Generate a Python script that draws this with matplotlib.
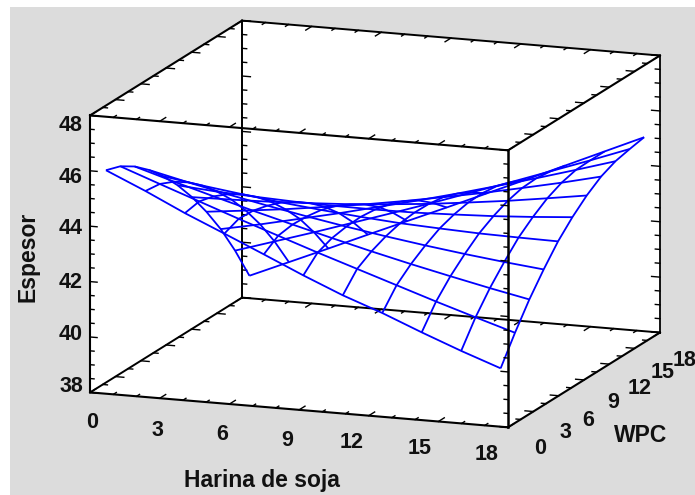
import numpy as np
import matplotlib
matplotlib.use("Agg")
import matplotlib.pyplot as plt
from matplotlib.patches import Rectangle
from mpl_toolkits.mplot3d.art3d import Poly3DCollection

# grid of the surface
harina = [0.5, 2.2, 3.9, 5.6, 7.3, 9.0, 10.7, 12.4, 14.1, 15.8, 17.5]
wpc = [0.5, 2.2, 3.9, 5.6, 7.3, 9.0, 10.7, 12.4, 14.1, 15.8, 17.5]

# one row per wpc value
espesor = [
    [45.96, 45.33, 44.65, 44.03, 43.40, 42.76, 42.16, 41.64, 41.06, 40.51, 40.00],
    [45.78, 45.26, 44.75, 44.24, 43.75, 43.26, 42.79, 42.32, 41.85, 41.40, 40.96],
    [45.45, 45.02, 44.61, 44.21, 43.83, 43.46, 43.10, 42.76, 42.44, 42.13, 41.84],
    [45.00, 44.67, 44.36, 44.07, 43.80, 43.55, 43.32, 43.11, 42.92, 42.75, 42.60],
    [44.45, 44.23, 44.04, 43.86, 43.71, 43.58, 43.47, 43.40, 43.34, 43.31, 43.29],
    [43.80, 43.69, 43.62, 43.56, 43.53, 43.52, 43.53, 43.58, 43.64, 43.73, 43.84],
    [43.05, 43.08, 43.12, 43.19, 43.27, 43.39, 43.52, 43.69, 43.87, 44.08, 44.30],
    [42.20, 42.36, 42.53, 42.73, 42.94, 43.18, 43.44, 43.71, 44.01, 44.32, 44.66],
    [41.25, 41.54, 41.86, 42.18, 42.53, 42.88, 43.25, 43.64, 44.04, 44.46, 44.89],
    [40.15, 40.60, 41.05, 41.52, 41.99, 42.47, 42.97, 43.46, 43.97, 44.48, 45.01],
    [38.92, 39.53, 40.14, 40.76, 41.37, 41.98, 42.60, 43.22, 43.85, 44.48, 45.11],
]

x_labels = ["0", "3", "6", "9", "12", "15", "18"]
y_labels = ["0", "3", "6", "9", "12", "15", "18"]
z_labels = ["48", "46", "44", "42", "40", "38"]

x_label_px = [(92, 423), (157, 430), (222, 434), (287, 441), (352, 443), (420, 449), (487, 454)]
y_label_px = [(540, 449), (565, 433), (588, 420), (613, 402), (640, 388), (663, 373), (685, 360)]
z_label_px = [(71, 125), (71, 177), (71, 229), (71, 282), (71, 334), (71, 386)]

W, H = 695, 495
x0, x1 = 0, 18
y0, y1 = 0, 18
z0, z1 = 38, 48

fig = plt.figure(figsize=(W / 100, H / 100), dpi=100, facecolor="white")
fig.patches.append(Rectangle((10 / W, 0), 1, 1 - 7 / H, transform=fig.transFigure,
                             facecolor="#dcdcdc", edgecolor="none", zorder=-10))

S = 668.6
ax = fig.add_axes([31.7 / W, -72.3 / H, S / W, S / H], projection="3d",
                  proj_type="ortho", computed_zorder=False)
ax.set_facecolor("none")
ax.set_axis_off()
ax.view_init(elev=13.2, azim=-69.9)
ax.set_box_aspect((445, 442, 284.5))

# white back walls
walls = [
    [(x0, y0, z0), (x0, y1, z0), (x0, y1, z1), (x0, y0, z1)],
    [(x0, y1, z0), (x1, y1, z0), (x1, y1, z1), (x0, y1, z1)],
    [(x0, y0, z0), (x1, y0, z0), (x1, y1, z0), (x0, y1, z0)],
]
ax.add_collection3d(Poly3DCollection(walls, facecolor="white", edgecolor="white",
                                     linewidth=0.5, zorder=1))


def edge(a, b, lw, z):
    ax.plot([a[0], b[0]], [a[1], b[1]], [a[2], b[2]], color="black", lw=lw, zorder=z,
            solid_capstyle="projecting")


def ticks(start, axis, values, direction, major_every, major_len, minor_len, z=2):
    for k, v in enumerate(values):
        p = list(start)
        p[axis] = v
        ln = major_len if k % major_every == 0 else minor_len
        q = [p[0] + direction[0] * ln, p[1] + direction[1] * ln, p[2] + direction[2] * ln]
        ax.plot([p[0], q[0]], [p[1], q[1]], [p[2], q[2]], color="black", lw=1.0, zorder=z)


# back edges
edge((x0, y1, z0), (x0, y1, z1), 1.4, 2)
edge((x0, y1, z0), (x1, y1, z0), 1.4, 2)
edge((x0, y0, z0), (x0, y1, z0), 1.4, 2)

x_ticks = np.arange(0, 19, 1)
y_ticks = np.arange(0, 18.1, 1.5)
z_ticks = np.arange(38, 48.1, 0.5)

# ticks on the hidden side
ticks((x0, y1, z0), 2, z_ticks, (1, 0, 0), 4, 0.36, 0.2)
ticks((x0, y0, z0), 1, y_ticks, (1, 0, 0), 2, 0.36, 0.2)
ticks((x0, y1, z0), 0, x_ticks, (0, -1, 0), 3, 0.7, 0.35)

X, Y = np.meshgrid(harina, wpc)
Z = np.array(espesor)
ax.plot_wireframe(X, Y, Z, color="#0000ff", linewidth=1.3, zorder=3)

# ticks on the front side
ticks((x0, y0, z0), 2, z_ticks, (1, 0, 0), 4, 0.3, 0.17, 4)
ticks((x1, y0, z0), 2, z_ticks, (-1, 0, 0), 4, 0.3, 0.17, 4)
ticks((x1, y1, z0), 2, z_ticks, (-1, 0, 0), 4, 0.36, 0.2, 4)
ticks((x0, y0, z0), 0, x_ticks, (0, 1, 0), 3, 0.7, 0.35, 4)
ticks((x0, y0, z1), 0, x_ticks, (0, 1, 0), 3, 0.7, 0.35, 4)
ticks((x0, y1, z1), 0, x_ticks, (0, -1, 0), 3, 0.7, 0.35, 4)
ticks((x0, y0, z1), 1, y_ticks, (1, 0, 0), 2, 0.36, 0.2, 4)
ticks((x1, y0, z1), 1, y_ticks, (-1, 0, 0), 2, 0.36, 0.2, 4)
ticks((x1, y0, z0), 1, y_ticks, (-1, 0, 0), 2, 0.36, 0.2, 4)

# front edges
edge((x0, y0, z0), (x1, y0, z0), 1.5, 5)
edge((x0, y0, z1), (x1, y0, z1), 1.5, 5)
edge((x0, y0, z0), (x0, y0, z1), 1.5, 5)
edge((x1, y0, z0), (x1, y0, z1), 1.8, 5)
edge((x1, y1, z0), (x1, y1, z1), 1.3, 5)
edge((x0, y1, z1), (x1, y1, z1), 1.4, 5)
edge((x0, y0, z1), (x0, y1, z1), 1.5, 5)
edge((x1, y0, z1), (x1, y1, z1), 1.5, 5)
edge((x1, y0, z0), (x1, y1, z0), 1.5, 5)
ax.set_xlim(x0, x1)
ax.set_ylim(y0, y1)
ax.set_zlim(z0, z1)


def label(px, s, **kw):
    fig.text(px[0] / W, 1 - px[1] / H, s, family="Liberation Sans", weight="bold",
             ha="center", va="center", color="#111111", **kw)


for s, p in zip(x_labels, x_label_px):
    label(p, s, fontsize=15.5)
for s, p in zip(y_labels, y_label_px):
    label(p, s, fontsize=15.5)
for s, p in zip(z_labels, z_label_px):
    label(p, s, fontsize=15.5)
label((262, 481), "Harina de soja", fontsize=16.5)
label((641, 435), "WPC", fontsize=16.5)
label((28, 257), "Espesor", fontsize=16.5, rotation=90)

fig.savefig("out.png", dpi=100)
